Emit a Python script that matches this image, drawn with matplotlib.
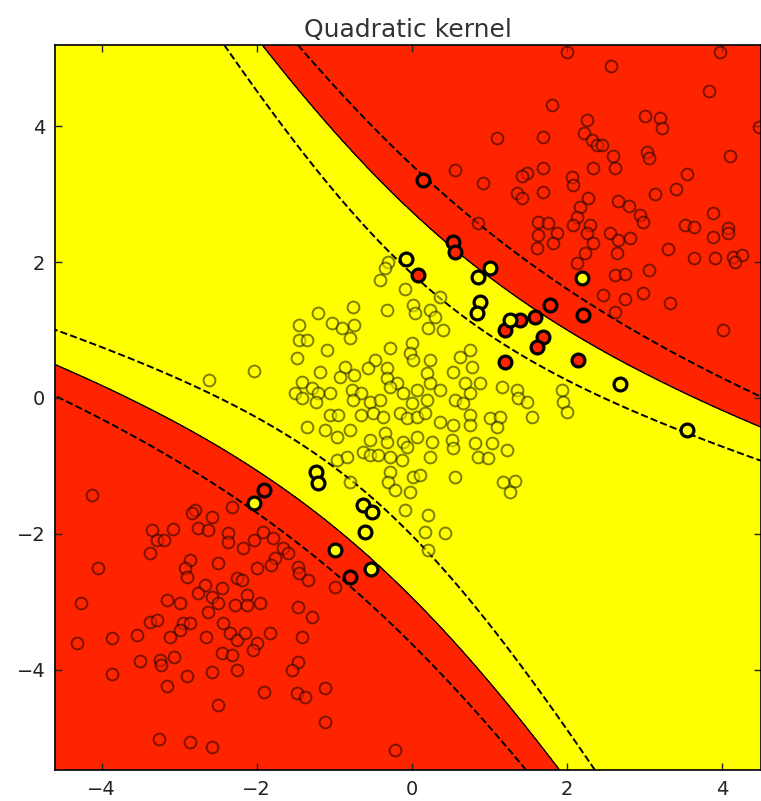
import numpy as np
import matplotlib
matplotlib.use("Agg")
import matplotlib.pyplot as plt

# ---------------------------------------------------------------
# Training points, class "red" (outer clusters)
# ---------------------------------------------------------------
red_x = [1.81, 2.26, 1.10, 1.69, 2.22, 2.32, 2.39, 0.55, 1.48, 1.42, 1.69, 0.92, 2.06, 2.08, 2.34, 1.35, 1.42, 1.69, 2.27, 2.17,
         2.13, 0.85, 1.63, 1.75, 2.08, 2.30, 2.00,
         2.57, 3.83, 3.01, 3.20, 3.23, 4.48, 2.45, 2.59, 2.62, 3.03, 3.05, 4.10, 3.55, 3.41, 3.14, 2.66, 2.80, 2.94, 2.98, 3.88,
         3.52, 3.63, 4.08, 3.97,
         2.55, 2.66, 2.81, 2.65, 3.30, 3.63, 3.91, 4.14, 4.26, 4.17, 3.88, 4.08, 3.05, 2.62, 2.75, 2.98, 2.46, 2.75, 3.33, 2.62, 4.01,
         1.63, 1.87, 1.82, 1.61, 2.26, 2.34, 2.23, 2.13,
         -4.12, -2.80, -2.84, -2.58, -2.32, -3.35, -3.08, -3.29, -3.19, -2.76,
         -2.63, -2.37, -2.37, -3.38, -4.05, -2.86, -2.93, -2.90, -2.50, -2.26,
         -2.67, -2.45, -2.76, -2.58, -2.50, -2.63, -4.26, -3.15, -2.99, -2.28,
         -3.38, -3.28, -2.95, -2.86, -2.99, -2.44, -4.31, -3.87, -3.54, -3.12,
         -2.65, -2.35, -2.26,
         -2.18, -2.03, -1.92, -1.79, -1.66, -1.77, -1.60, -2.00, -1.81, -1.47,
         -1.34, -1.45, -2.19, -2.12, -1.96, -2.13, -0.99, -1.47, -1.29, -1.83,
         -1.42, -2.15, -2.00,
         -3.86, -3.50, -3.25, -3.23, -3.06, -2.90, -3.15, -2.57, -2.50, -2.45,
         -2.32, -2.26, -3.26, -2.86, -2.58,
         -1.47, -1.54, -1.90, -1.48, -1.38, -1.12, -1.12, -0.22, -2.05]
red_y = [4.32, 4.09, 3.83, 3.84, 3.90, 3.80, 3.73, 3.36, 3.31, 3.27, 3.39, 3.17, 3.25, 3.14, 3.39, 3.02, 2.95, 3.03, 2.95, 2.81,
         2.67, 2.58, 2.59, 2.58, 2.55, 2.55, 5.10,
         4.89, 4.52, 4.15, 4.12, 3.98, 3.99, 3.73, 3.56, 3.39, 3.62, 3.53, 3.56, 3.30, 3.08, 3.00, 2.90, 2.83, 2.70, 2.59, 2.72,
         2.55, 2.52, 2.50, 5.10,
         2.43, 2.33, 2.36, 2.14, 2.19, 2.06, 2.06, 2.08, 2.11, 2.00, 2.37, 2.43, 1.89, 1.81, 1.83, 1.55, 1.52, 1.46, 1.40, 1.27, 1.00,
         2.40, 2.43, 2.28, 2.21, 2.43, 2.28, 2.14, 1.99,
         -1.43, -1.65, -1.69, -1.75, -1.61, -1.94, -1.93, -2.09, -2.09, -1.91,
         -1.94, -1.99, -2.12, -2.28, -2.50, -2.39, -2.50, -2.64, -2.43, -2.65,
         -2.75, -2.80, -2.87, -2.93, -3.02, -3.15, -3.02, -2.97, -3.02, -3.05,
         -3.30, -3.27, -3.31, -3.31, -3.42, -3.31, -3.61, -3.53, -3.49, -3.52,
         -3.52, -3.46, -3.56,
         -2.21, -2.09, -1.97, -2.06, -2.21, -2.36, -2.28, -2.50, -2.46, -2.49,
         -2.68, -2.58, -2.68, -2.90, -3.02, -3.05, -2.78, -3.08, -3.23, -3.46,
         -3.52, -3.46, -3.61,
         -4.06, -3.87, -3.86, -3.93, -3.81, -4.09, -4.24, -4.04, -4.52, -3.76,
         -3.79, -4.01, -5.02, -5.07, -5.14,
         -3.89, -4.01, -4.33, -4.34, -4.40, -4.27, -4.77, -5.18, -3.71]

# ---------------------------------------------------------------
# Training points, class "yellow" (central blob)
# ---------------------------------------------------------------
yellow_x = [0.36, 0.23, 0.30, 0.21, 0.40, 0.75, 0.62, 0.23, 0.77, 0.53,
            0.19, 0.23, 0.36, 0.68, 0.88, 0.75, 1.16, 1.35, 1.37, 1.48,
            1.94, 1.95, 0.55, 0.19, 0.66,
            -0.31, -0.35, -0.41, -0.09, -0.76, -1.21, -0.32, 0.01, 0.04, -1.45,
            -1.03, -0.90, -0.74, -0.80, -1.45, -1.35, -1.48, -1.10, -0.28, 0.00,
            -0.03, 0.01, -1.19, -0.86, -0.74, -0.93, -0.48, -0.57, -0.32, -0.32,
            -0.19, -1.42, -1.29, -1.51, -1.42, -1.21, -1.06, -1.23, -0.77, -0.65,
            -0.76, -0.54, -0.41, -0.28, -0.12, 0.06, 0.00,
            -1.06, -0.95, -0.65, -0.50, -0.37, -0.15, -0.06, 0.06, -1.35, -1.12,
            -0.97, -0.80, -0.54, -0.35, -0.32, -0.12, -0.06, 0.06, -0.97, -0.84,
            -0.63, -0.54, -0.44, -0.28, -0.13, -0.28, -0.31, -0.22, 0.01, -0.03,
            -0.09, -0.80,
            0.17, 0.36, 0.53, 0.75, 0.75, 1.01, 1.14, 1.10, 1.55, 2.00,
            0.26, 0.52, 0.53, 0.81, 1.03, 0.85, 0.98, 1.23, 0.23, 0.10,
            0.55, 1.17, 1.33, 1.26, 0.21, 0.17, 0.43, 0.21,
            -2.61, -2.04]
yellow_y = [1.49, 1.30, 1.19, 1.03, 1.00, 0.71, 0.60, 0.56, 0.46, 0.38,
            0.37, 0.22, 0.12, 0.22, 0.22, 0.07, 0.16, 0.12, 0.00, -0.06,
            0.12, -0.06, -0.03, -0.03, -0.07,
            2.00, 1.91, 1.74, 1.61, 1.34, 1.25, 1.30, 1.37, 1.25, 1.08,
            1.10, 1.03, 1.08, 0.88, 0.85, 0.85, 0.59, 0.71, 0.74, 0.81,
            0.66, 0.56, 0.38, 0.46, 0.34, 0.31, 0.56, 0.44, 0.44, 0.29,
            0.22, 0.24, 0.15, 0.07, 0.00, 0.07, 0.07, -0.06, 0.12, 0.07,
            -0.03, -0.06, -0.03, 0.16, 0.07, 0.12, -0.07,
            -0.25, -0.25, -0.25, -0.22, -0.28, -0.22, -0.29, -0.28, -0.43, -0.47,
            -0.57, -0.47, -0.62, -0.52, -0.65, -0.65, -0.72, -0.57, -0.91, -0.87,
            -0.80, -0.84, -0.84, -0.87, -0.91, -1.09, -1.24, -1.35, -1.16, -1.38,
            -1.65, -1.24,
            -0.22, -0.35, -0.40, -0.25, -0.40, -0.29, -0.28, -0.43, -0.28, -0.21,
            -0.65, -0.62, -0.74, -0.66, -0.66, -0.87, -0.88, -0.77, -0.87, -1.13,
            -1.16, -1.24, -1.22, -1.38, -1.72, -1.97, -1.99, -2.24,
            0.27, 0.40]

# ---------------------------------------------------------------
# Support vectors of each class
# ---------------------------------------------------------------
sv_red_x = [0.14, 0.53, 0.55, 1.78, 2.21, 0.08, 1.20, 1.39, 1.59, 1.69, 1.61, 1.20, 2.14, -1.90, -0.80]
sv_red_y = [3.21, 2.30, 2.15, 1.37, 1.22, 1.81, 1.00, 1.15, 1.19, 0.90, 0.75, 0.53, 0.56, -1.35, -2.64]

sv_yellow_x = [-0.08, 1.01, 0.85, 0.88, 0.84, 1.26, 2.19, 2.68, 3.54, -1.23, -1.21, -2.03, -0.63, -0.52, -0.61, -0.99, -0.53]
sv_yellow_y = [2.05, 1.91, 1.78, 1.41, 1.25, 1.15, 1.77, 0.21, -0.47, -1.09, -1.25, -1.55, -1.58, -1.68, -1.97, -2.24, -2.52]

# ---------------------------------------------------------------
# Samples of the decision function level sets: f = 0, f = +1, f = -1
# ---------------------------------------------------------------
level0_x = [-2.00, 0.30, 0.75, 1.10, 1.52, 1.91, 2.43, 3.94, 4.50,
            -4.61, -1.96, -0.03, 0.75, 1.20, 1.72]
level0_y = [5.20, 2.47, 2.03, 1.74, 1.34, 1.15, 0.78, -0.18, -0.50,
            0.44, -1.06, -2.78, -3.71, -4.45, -5.48]

pos_x = [0.52, 0.79, 0.97, 1.30, 1.61, 1.91, 2.17, 2.71, 2.98, 3.29, 3.56, 3.87, 4.17, 4.45,
         -2.76, -2.50, -1.41, -0.58, -0.32, -0.06, 0.43]
pos_y = [2.84, 2.59, 2.43, 2.15, 1.93, 1.74, 1.55, 1.08, 0.90, 0.71, 0.52, 0.35, 0.18, 0.01,
         -1.09, -1.25, -2.09, -2.83, -3.08, -3.34, -3.86]

neg_x = [-2.45, -0.39, 0.36, 0.65, 1.48, 1.69, 2.00, 2.30, 2.85,
         -4.61, -1.79, -1.51, -0.90, -0.67, -0.45, -0.18, 0.06, 0.30, 0.58, 2.55]
neg_y = [5.13, 2.40, 1.62, 1.41, 0.75, 0.59, 0.37, 0.19, -0.07,
         0.91, -0.54, -0.74, -1.16, -1.35, -1.61, -1.87, -2.09, -2.39, -2.65, -5.48]

x_ticks = [-4, -2, 0, 2, 4]
y_ticks = [-4, -2, 0, 2, 4]
title_text = "Quadratic kernel"

RED = "#ff2400"
YELLOW = "#ffff00"
XLIM = (-4.6, 4.5)
YLIM = (-5.48, 5.20)


def quad_features(x, y):
    x = np.asarray(x, dtype=float)
    y = np.asarray(y, dtype=float)
    return np.column_stack([x * x, x * y, y * y, x, y, np.ones_like(x)])


# Degree-2 decision function fitted to its level-set samples;
# the zero level (the decision boundary) is weighted more heavily.
A = np.vstack([quad_features(level0_x, level0_y),
               quad_features(pos_x, pos_y),
               quad_features(neg_x, neg_y)])
b = np.concatenate([np.zeros(len(level0_x)), np.ones(len(pos_x)), -np.ones(len(neg_x))])
w = np.concatenate([np.full(len(level0_x), 2.5), np.ones(len(pos_x)), np.ones(len(neg_x))])
coef, *_ = np.linalg.lstsq(A * w[:, None], b * w, rcond=None)

gx = np.linspace(XLIM[0], XLIM[1], 700)
gy = np.linspace(YLIM[0], YLIM[1], 700)
XX, YY = np.meshgrid(gx, gy)
Z = (quad_features(XX.ravel(), YY.ravel()) @ coef).reshape(XX.shape)

fig = plt.figure(figsize=(7.61, 8.01), dpi=100)
ax = fig.add_axes([55 / 761, 31 / 801, 706 / 761, 725 / 801])

ax.contourf(XX, YY, Z, levels=[Z.min() - 1, 0, Z.max() + 1], colors=[YELLOW, RED], zorder=0)
ax.contour(XX, YY, Z, levels=[-1, 0, 1], colors="k",
           linestyles=["--", "-", "--"], linewidths=[1.4, 1.0, 1.4], zorder=1)

ax.scatter(red_x, red_y, s=72, c=RED, edgecolors="k", linewidths=1.4, alpha=0.5, zorder=2)
ax.scatter(yellow_x, yellow_y, s=72, c=YELLOW, edgecolors="k", linewidths=1.4, alpha=0.5, zorder=2)
ax.scatter(sv_red_x, sv_red_y, s=85, c=RED, edgecolors="k", linewidths=2.3, zorder=3)
ax.scatter(sv_yellow_x, sv_yellow_y, s=85, c=YELLOW, edgecolors="k", linewidths=2.3, zorder=3)

ax.set_xlim(*XLIM)
ax.set_ylim(*YLIM)
ax.set_xticks(x_ticks)
ax.set_yticks(y_ticks)
ax.tick_params(direction="in", top=True, right=True, length=5, width=1,
               labelsize=14, colors="#222222", pad=7)
for sp in ax.spines.values():
    sp.set_linewidth(1.2)
ax.set_title(title_text, fontsize=18, color="#333333", pad=6)

fig.savefig("out.png", dpi=100)
